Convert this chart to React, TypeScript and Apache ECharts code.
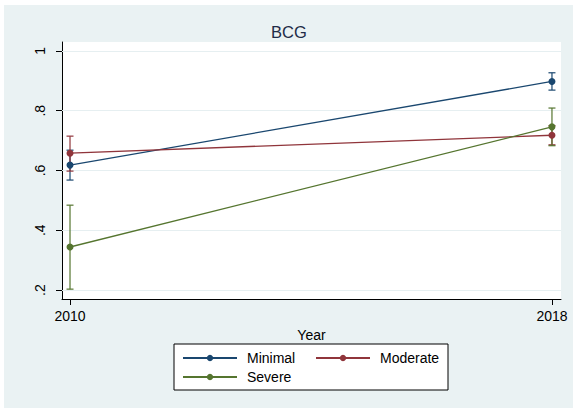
import React, { useEffect, useRef } from "react";
import * as echarts from "echarts";

const years = [2010, 2018];
const seriesNames = ["Minimal", "Moderate", "Severe"];
const minimalMean = [0.618, 0.898];
const minimalLow = [0.568, 0.869];
const minimalHigh = [0.668, 0.927];
const moderateMean = [0.658, 0.718];
const moderateLow = [0.598, 0.686];
const moderateHigh = [0.715, 0.75];
const severeMean = [0.344, 0.746];
const severeLow = [0.203, 0.683];
const severeHigh = [0.484, 0.809];
const yTicks = [0.2, 0.4, 0.6, 0.8, 1];
const xTicks = [2010, 2018];

const colors = ["#1a476f", "#90353b", "#55752f"];
const FONT = "'Liberation Sans', Arial, sans-serif";

const means = [minimalMean, moderateMean, severeMean];
const lows = [minimalLow, moderateLow, severeLow];
const highs = [minimalHigh, moderateHigh, severeHigh];

export default function App() {
  const ref = useRef<HTMLDivElement>(null);
  useEffect(() => {
    if (!ref.current) return;
    const chart = echarts.init(ref.current, undefined, { renderer: "svg" });

    const ciSeries = seriesNames.map((name, i) => ({
      type: "custom",
      name: name + " CI",
      silent: true,
      z: 3,
      data: years.map((y, j) => [y, lows[i][j], highs[i][j]]),
      encode: { x: 0, y: [1, 2] },
      renderItem: (params: any, api: any) => {
        const x = api.value(0);
        const pLo = api.coord([x, api.value(1)]);
        const pHi = api.coord([x, api.value(2)]);
        const hw = 3.5;
        const style = { stroke: colors[i], lineWidth: 1.2, fill: "none" };
        return {
          type: "group",
          children: [
            { type: "line", shape: { x1: pLo[0], y1: pLo[1], x2: pHi[0], y2: pHi[1] }, style },
            { type: "line", shape: { x1: pLo[0] - hw, y1: pLo[1], x2: pLo[0] + hw, y2: pLo[1] }, style },
            { type: "line", shape: { x1: pHi[0] - hw, y1: pHi[1], x2: pHi[0] + hw, y2: pHi[1] }, style },
          ],
        };
      },
    }));

    const lineSeries = seriesNames.map((name, i) => ({
      type: "line",
      name,
      z: 4,
      data: years.map((y, j) => [y, means[i][j]]),
      symbol: "circle",
      symbolSize: 7,
      showSymbol: true,
      lineStyle: { color: colors[i], width: 1.3 },
      itemStyle: { color: colors[i] },
      emphasis: { disabled: true },
    }));

    const gridSeries = {
      type: "line",
      name: "grid",
      data: [],
      silent: true,
      z: 1,
      markLine: {
        silent: true,
        z: 1,
        symbol: "none",
        label: { show: false },
        lineStyle: { color: "#e6eff1", width: 1, type: "solid" },
        data: yTicks.map((v) => ({ yAxis: v })),
      },
    };

    chart.setOption({
      animation: false,
      backgroundColor: "#ffffff",
      textStyle: { fontFamily: FONT },
      graphic: [
        {
          type: "rect",
          z: -10,
          silent: true,
          shape: { x: 4, y: 5, width: 569, height: 403 },
          style: { fill: "#eaf2f3" },
        },
      ],
      title: {
        text: "BCG",
        left: 266,
        top: 18,
        textStyle: { fontFamily: FONT, fontSize: 16.5, fontWeight: "normal", color: "#1e2b47" },
      },
      grid: {
        left: 62,
        right: 12,
        top: 42,
        bottom: 109,
        show: true,
        backgroundColor: "#ffffff",
        borderWidth: 0,
      },
      xAxis: {
        type: "value",
        min: 2009.867,
        max: 2018.15,
        name: "Year",
        nameLocation: "middle",
        nameGap: 23,
        nameTextStyle: { fontFamily: FONT, fontSize: 14, color: "#000", verticalAlign: "top" },
        axisLine: { show: true, onZero: false, lineStyle: { color: "#000", width: 1 } },
        axisTick: { show: true, customValues: xTicks, length: 6, lineStyle: { color: "#000" } },
        axisLabel: {
          customValues: xTicks,
          margin: 10,
          fontFamily: FONT,
          fontSize: 14,
          color: "#000",
          formatter: (v: number) => String(Math.round(v)),
        },
        splitLine: { show: false },
      },
      yAxis: {
        type: "value",
        min: 0.17,
        max: 1.03,
        axisLine: { show: true, onZero: false, lineStyle: { color: "#000", width: 1 } },
        axisTick: { show: true, customValues: yTicks, length: 6, lineStyle: { color: "#000" } },
        axisLabel: {
          customValues: yTicks,
          rotate: 90,
          margin: 15,
          fontFamily: FONT,
          fontSize: 14,
          color: "#000",
          formatter: (v: number) => String(Math.round(v * 10) / 10).replace(/^0(?=\.)/, ""),
        },
        splitLine: { show: false },
      },
      legend: {
        data: seriesNames,
        left: 174,
        top: 344,
        width: 262,
        orient: "horizontal",
        itemWidth: 54,
        itemHeight: 8,
        itemGap: 5,
        padding: [7, 5, 6, 8],
        backgroundColor: "#ffffff",
        borderColor: "#000000",
        borderWidth: 1,
        borderRadius: 0,
        selectedMode: false,
        textStyle: {
          fontFamily: FONT,
          fontSize: 14,
          color: "#000",
          lineHeight: 14,
          width: 63,
          padding: [0, 0, 0, 5],
        },
      },
      series: [gridSeries, ...ciSeries, ...lineSeries],
    });

    return () => chart.dispose();
  }, []);

  return (
    <div
      ref={ref}
      style={{ position: "fixed", left: 0, top: 0, width: 573, height: 408 }}
    />
  );
}
